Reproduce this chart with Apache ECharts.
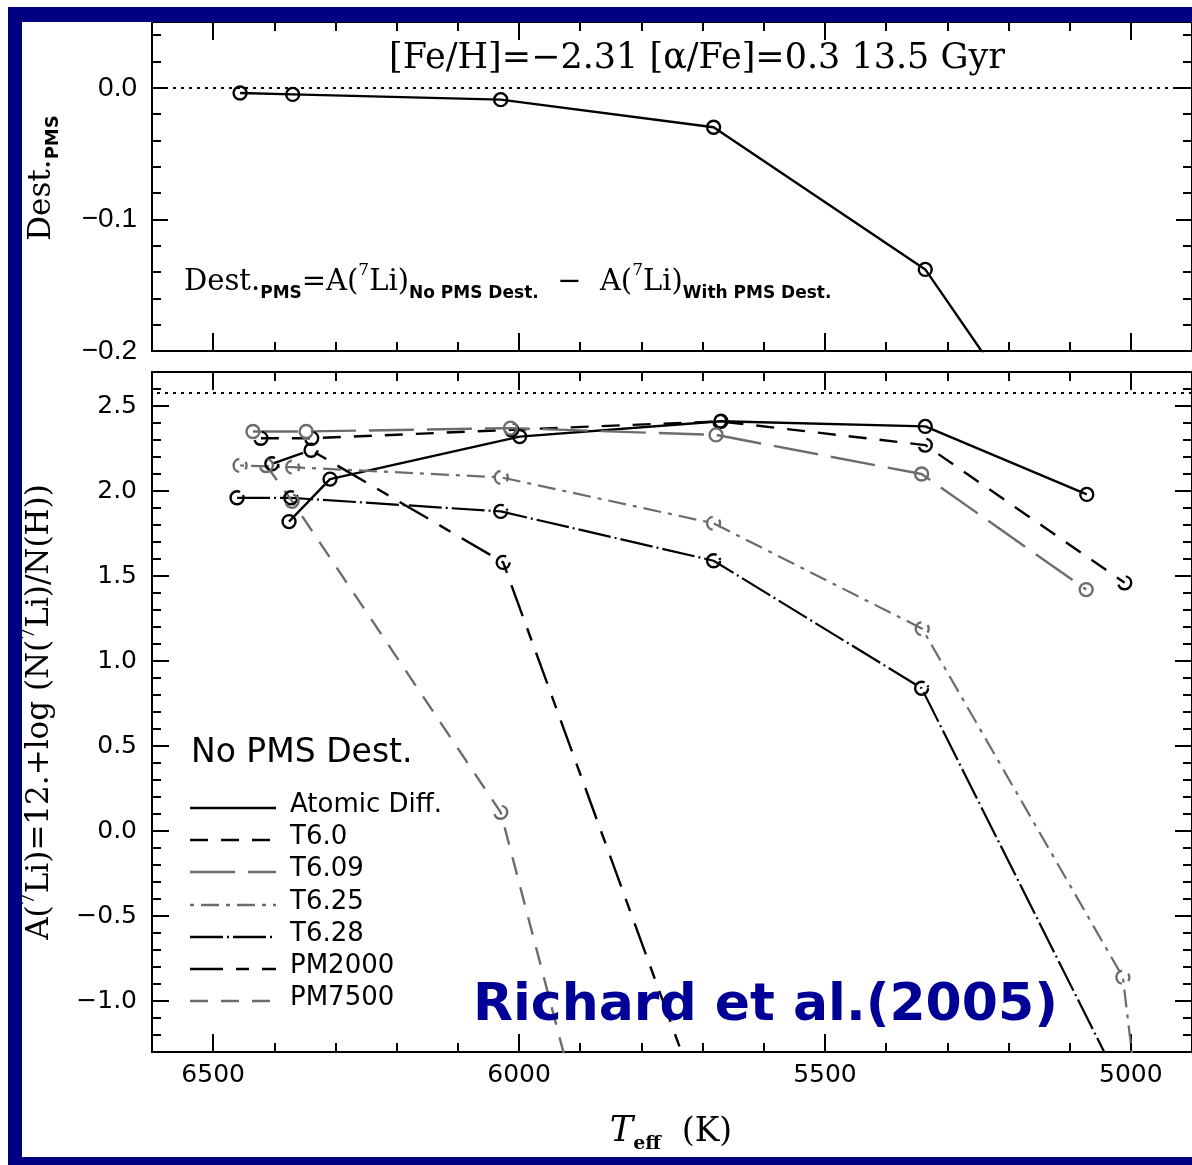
<!DOCTYPE html>
<html>
<head>
<meta charset="utf-8">
<script src="https://cdn.jsdelivr.net/npm/echarts@6/dist/echarts.min.js"></script>
<style>
  html, body { margin: 0; padding: 0; background: #fff; }
  #chart { width: 1192px; height: 1165px; }
</style>
</head>
<body>
<div id="chart"></div>
<script>
// ---- Data: effective temperature (K) and lithium values per model ----
// Upper panel: PMS destruction, Dest.PMS
const destTeff   = [6456, 6370, 6030, 5682, 5336, 5072];
const destValues = [-0.004, -0.005, -0.009, -0.030, -0.138, -0.316];

// Lower panel: A(7Li) for the models without PMS destruction
const atomicTeff = [6376, 6309, 5999, 5670, 5336, 5072];
const atomicLi   = [1.82, 2.07, 2.32, 2.41, 2.38, 1.98];

const t60Teff = [6422, 6339, 6012, 5672, 5336, 5010];
const t60Li   = [2.31, 2.31, 2.36, 2.41, 2.27, 1.46];

const t609Teff = [6435, 6348, 6014, 5678, 5342, 5073];
const t609Li   = [2.35, 2.35, 2.37, 2.33, 2.10, 1.42];

const t625Teff = [6456, 6370, 6029, 5682, 5341, 5013, 4960];
const t625Li   = [2.15, 2.14, 2.08, 1.81, 1.19, -0.86, -2.46];

const t628Teff = [6461, 6373, 6030, 5682, 5342, 5010];
const t628Li   = [1.96, 1.96, 1.88, 1.59, 0.84, -1.54];

const pm2000Teff = [6404, 6340, 6026, 5690];
const pm2000Li   = [2.16, 2.24, 1.58, -1.74];

const pm7500Teff = [6413, 6371, 6030, 5690];
const pm7500Li   = [2.15, 1.94, 0.11, -4.57];

// Reference levels drawn as dotted lines
const destZero  = 0.0;
const initialLi = 2.58;

// Axis ranges and tick labels
const teffRange  = [4900, 6600];
const teffLabels = [6500, 6000, 5500, 5000];
const teffMinorStep = 100;

const destRange  = [-0.2, 0.05];
const destLabels = [-0.2, -0.1, 0.0];
const destMinorStep = 0.02;

const liRange  = [-1.3, 2.7];
const liLabels = [-1.0, -0.5, 0.0, 0.5, 1.0, 1.5, 2.0, 2.5];
const liMinorStep = 0.1;

// ---- Styles ----
const BLACK = '#000000';
const GRAY  = '#6c6c6c';
const NAVY  = '#000080';

const models = [
  { name: 'Atomic Diff.', teff: atomicTeff, li: atomicLi, color: BLACK, dash: 'solid',          width: 2.4 },
  { name: 'T6.0',         teff: t60Teff,    li: t60Li,    color: BLACK, dash: [18, 13],         width: 2.4 },
  { name: 'T6.09',        teff: t609Teff,   li: t609Li,   color: GRAY,  dash: [45, 13],         width: 2.4 },
  { name: 'T6.25',        teff: t625Teff,   li: t625Li,   color: GRAY,  dash: [4, 7, 18, 7],    width: 2.2 },
  { name: 'T6.28',        teff: t628Teff,   li: t628Li,   color: BLACK, dash: [33, 4, 2, 4],    width: 2.2 },
  { name: 'PM2000',       teff: pm2000Teff, li: pm2000Li, color: BLACK, dash: [33, 13, 13, 13], width: 2.4 },
  { name: 'PM7500',       teff: pm7500Teff, li: pm7500Li, color: GRAY,  dash: [18, 13],         width: 2.4 }
];

function steps(lo, hi, step) {
  const out = [];
  const n = Math.round((hi - lo) / step);
  for (let i = 0; i <= n; i++) out.push(+(lo + i * step).toFixed(6));
  return out;
}

const teffMinor = steps(teffRange[0], teffRange[1], teffMinorStep);
const destMinor = steps(destRange[0], 0.04, destMinorStep);
const liMinor   = steps(liRange[0], liRange[1], liMinorStep);

const signed = (v, d) => (v < 0 ? '\u2212' : '') + Math.abs(v).toFixed(d);

const GRID_LEFT = 152, GRID_W = 1043;
const grids = [
  { left: GRID_LEFT, top: 22,  width: GRID_W, height: 329 },
  { left: GRID_LEFT, top: 372, width: GRID_W, height: 680 }
];

const axisLine = { show: true, onZero: false, lineStyle: { color: '#000', width: 2 } };
const tick = (values, len) => ({ show: true, inside: true, length: len, customValues: values, lineStyle: { color: '#000', width: 2 } });

// Four x axes per panel: bottom/top, each with long (major) and short (minor) ticks
function xAxesFor(gi, label) {
  const base = {
    type: 'value', gridIndex: gi, min: teffRange[0], max: teffRange[1], interval: teffMinorStep,
    inverse: true, splitLine: { show: false }, axisLine
  };
  const list = [];
  ['bottom', 'top'].forEach(pos => {
    list.push(Object.assign({}, base, { position: pos, axisTick: tick(teffLabels, 18),
      axisLabel: (label && pos === 'bottom') ? label : { show: false } }));
    list.push(Object.assign({}, base, { position: pos, axisTick: tick(teffMinor, 9), axisLabel: { show: false } }));
  });
  return list;
}

function yAxesFor(gi, range, step, major, minor, label, majorLen, minorLen) {
  const base = {
    type: 'value', gridIndex: gi, min: range[0], max: range[1], interval: step,
    splitLine: { show: false }, axisLine
  };
  const list = [];
  ['left', 'right'].forEach(pos => {
    list.push(Object.assign({}, base, { position: pos, axisTick: tick(major, majorLen),
      axisLabel: pos === 'left' ? label : { show: false } }));
    list.push(Object.assign({}, base, { position: pos, axisTick: tick(minor, minorLen), axisLabel: { show: false } }));
  });
  return list;
}

const xAxis = [].concat(
  xAxesFor(0, null),
  xAxesFor(1, {
    show: true, customValues: teffLabels, margin: 11, color: '#000',
    fontFamily: 'DejaVu Sans', fontSize: 25, formatter: v => String(v)
  })
);

const yAxis = [].concat(
  yAxesFor(0, destRange, 0.01, destLabels, destMinor, {
    show: true, customValues: destLabels, margin: 15, color: '#000',
    fontFamily: 'Liberation Sans', fontSize: 28, formatter: v => signed(v, 1)
  }, 16, 9),
  yAxesFor(1, liRange, liMinorStep, liLabels, liMinor, {
    show: true, customValues: liLabels, margin: 15, color: '#000',
    fontFamily: 'DejaVu Sans', fontSize: 25, formatter: v => signed(v, 1)
  }, 17, 9)
);

function dotted(value) {
  return {
    silent: true, symbol: ['none', 'none'], label: { show: false }, animation: false,
    lineStyle: { color: '#000', width: 2, type: [3, 5] },
    emphasis: { disabled: true },
    data: [{ yAxis: value }]
  };
}

function lineSeries(name, xs, ys, st, gi, extra) {
  return Object.assign({
    type: 'line', name, xAxisIndex: gi * 4, yAxisIndex: gi * 4,
    data: xs.map((t, i) => [t, ys[i]]),
    symbol: 'circle', symbolSize: 13, showAllSymbol: true, clip: true, silent: true,
    lineStyle: { color: st.color, width: st.width, type: st.dash },
    itemStyle: { color: 'rgba(0,0,0,0)', borderColor: st.color, borderWidth: 2.4, borderType: st.dash },
    emphasis: { disabled: true },
    animation: false
  }, extra || {});
}

const series = [
  lineSeries('Dest.PMS', destTeff, destValues, models[0], 0, { markLine: dotted(destZero) })
].concat(models.map((m, i) => lineSeries(m.name, m.teff, m.li, m, 1, i === 0 ? { markLine: dotted(initialLi) } : {})));

// ---- Annotations: titles, formula, legend, frame ----
const legendTop = 808, legendStep = 32.2;
const legendItems = [];
models.forEach((m, i) => {
  const y = Math.round(legendTop + i * legendStep);
  legendItems.push({
    type: 'line', silent: true,
    shape: { x1: 190, y1: y, x2: 276, y2: y },
    style: { stroke: m.color, lineWidth: 2.6, lineDash: m.dash === 'solid' ? null : m.dash }
  });
  legendItems.push({
    type: 'text', silent: true, x: 290, y: y - 3,
    style: { text: m.name, fontFamily: 'DejaVu Sans', fontSize: 26, fill: '#000', verticalAlign: 'middle' }
  });
});

const richMain = (size) => ({
  m:   { fontFamily: 'DejaVu Serif', fontSize: size, lineHeight: 40, color: '#000' },
  sup: { fontFamily: 'DejaVu Serif', fontSize: Math.round(size * 0.6), lineHeight: 30, verticalAlign: 'top', color: '#000' },
  sub: { fontFamily: 'DejaVu Sans', fontWeight: 'bold', fontSize: Math.round(size * 0.58), lineHeight: 18, verticalAlign: 'bottom', color: '#000' }
});

const graphic = [
  // heading of the upper panel
  {
    type: 'text', silent: true, x: 697, y: 59,
    style: { text: '[Fe/H]=\u22122.31 [\u03b1/Fe]=0.3 13.5 Gyr', fontFamily: 'DejaVu Serif', fontSize: 35,
             fill: '#000', align: 'center', verticalAlign: 'middle' }
  },
  // definition of Dest.PMS
  {
    type: 'text', silent: true, x: 184, y: 282,
    style: {
      text: '{m|Dest.}{sub|PMS}{m|=A(}{sup|7}{m|Li)}{sub|No PMS Dest.}{m|  \u2212  A(}{sup|7}{m|Li)}{sub|With PMS Dest.}',
      align: 'left', verticalAlign: 'middle', rich: richMain(29)
    }
  },
  // y axis titles
  {
    type: 'text', silent: true, x: 42, y: 178, rotation: Math.PI / 2,
    style: { text: '{m|Dest.}{sub|PMS}', align: 'center', verticalAlign: 'middle', rich: richMain(31) }
  },
  {
    type: 'text', silent: true, x: 40, y: 712, rotation: Math.PI / 2,
    style: {
      text: '{m|A(}{sup|7}{m|Li)=12.+log (N(}{sup|7}{m|Li)/N(H))}',
      align: 'center', verticalAlign: 'middle', rich: richMain(31)
    }
  },
  // x axis title
  {
    type: 'text', silent: true, x: 671, y: 1132,
    style: {
      text: '{t|T}{e|eff}{k|  (K)}', align: 'center', verticalAlign: 'middle',
      rich: {
        t: { fontFamily: 'DejaVu Serif', fontStyle: 'italic', fontSize: 35, lineHeight: 44, color: '#000' },
        e: { fontFamily: 'DejaVu Serif', fontWeight: 'bold', fontSize: 19, lineHeight: 18, verticalAlign: 'bottom', color: '#000' },
        k: { fontFamily: 'DejaVu Serif', fontSize: 33, lineHeight: 44, color: '#000' }
      }
    }
  },
  // legend heading
  {
    type: 'text', silent: true, x: 191, y: 753,
    style: { text: 'No PMS Dest.', fontFamily: 'DejaVu Sans', fontSize: 33, fill: '#000', verticalAlign: 'middle' }
  },
  // citation
  {
    type: 'text', silent: true, x: 473, y: 1006, z: 50,
    style: { text: 'Richard et al.(2005)', fontFamily: '"Comic Sans MS", "DejaVu Sans"', fontWeight: 'bold',
             fontSize: 52, fill: '#000096', verticalAlign: 'middle' }
  },
  // frame
  { type: 'rect', silent: true, z: 100, shape: { x: 8, y: 7, width: 1184, height: 15 }, style: { fill: NAVY } },
  { type: 'rect', silent: true, z: 100, shape: { x: 8, y: 7, width: 14, height: 1158 }, style: { fill: NAVY } },
  { type: 'rect', silent: true, z: 100, shape: { x: 8, y: 1157, width: 1184, height: 8 }, style: { fill: NAVY } }
].concat(legendItems);

const chart = echarts.init(document.getElementById('chart'), null, { renderer: 'canvas', width: 1192, height: 1165 });
chart.setOption({
  backgroundColor: '#ffffff',
  animation: false,
  grid: grids,
  xAxis,
  yAxis,
  series,
  graphic
});
</script>
</body>
</html>
